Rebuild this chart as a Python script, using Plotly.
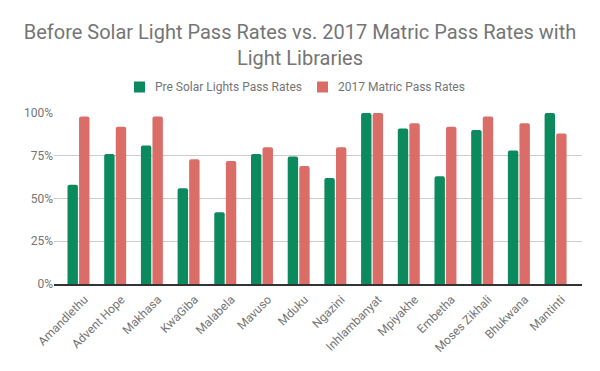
import plotly.graph_objects as go

schools = ["Amandlethu", "Advent Hope", "Makhasa", "KwaGiba", "Malabela", "Mavuso",
           "Mduku", "Ngazini", "Inhlambanyat", "Mpiyakhe", "Embetha", "Moses Zikhali",
           "Bhukwana", "Mantinti"]
pre_solar = [0.58, 0.76, 0.81, 0.56, 0.42, 0.76, 0.745, 0.62, 1.00, 0.91, 0.63, 0.90, 0.78, 1.00]
matric_2017 = [0.98, 0.92, 0.98, 0.73, 0.72, 0.80, 0.69, 0.80, 1.00, 0.94, 0.92, 0.98, 0.94, 0.88]
y_ticks = [0, 0.25, 0.5, 0.75, 1.0]
y_tick_text = ["0%", "25%", "50%", "75%", "100%"]
series_names = ["Pre Solar Lights Pass Rates", "2017 Matric Pass Rates"]

GREEN = "#0b8a5e"
RED = "#db6d68"
GREY = "#757575"

# plot area in pixels (for converting legend positions to paper coords)
L, R, T, B = 54, 582, 113, 284
def px(x):
    return (x - L) / (R - L)
def py(y):
    return (B - y) / (B - T)

fig = go.Figure()
fig.add_trace(go.Bar(x=list(range(len(schools))), y=pre_solar, name=series_names[0],
                     marker=dict(color=GREEN, line=dict(width=0))))
fig.add_trace(go.Bar(x=list(range(len(schools))), y=matric_2017, name=series_names[1],
                     marker=dict(color=RED, line=dict(width=0))))

# legend drawn manually to match spacing
shapes = []
annotations = []
for (sx, tx, col, name) in [(134, 153, GREEN, series_names[0]), (317, 336, RED, series_names[1])]:
    shapes.append(dict(type="rect", xref="paper", yref="paper",
                       x0=px(sx), x1=px(sx + 11), y0=py(92.5), y1=py(81.5),
                       fillcolor=col, line=dict(width=0), layer="above"))
    annotations.append(dict(text=name, xref="paper", yref="paper", x=px(tx), y=py(87),
                            xanchor="left", yanchor="middle", showarrow=False,
                            font=dict(size=12, color=GREY, family="Roboto")))

fig.update_layout(
    width=600, height=371,
    paper_bgcolor="white", plot_bgcolor="white",
    font=dict(family="Roboto", size=12, color=GREY),
    title=dict(text="Before Solar Light Pass Rates vs. 2017 Matric Pass Rates with<br>Light Libraries",
               x=0.5, xanchor="center", y=0.895, yanchor="top", automargin=False,
               font=dict(size=20, color=GREY, family="Roboto")),
    margin=dict(l=L, r=600 - R, t=T, b=371 - B, autoexpand=False),
    barmode="group", bargap=0.37, bargroupgap=0.1, barcornerradius=2,
    showlegend=False,
    shapes=shapes, annotations=annotations,
    xaxis=dict(tickmode="array", tickvals=list(range(len(schools))), ticktext=schools,
               tickangle=-45, range=[-0.667, 13.72], showgrid=False, zeroline=False,
               showline=True, linecolor="#333333", linewidth=1.5, ticks="",
               ticklabelshift=6, ticklabelstandoff=2,
               automargin=False, tickfont=dict(size=12, color=GREY)),
    yaxis=dict(tickmode="array", tickvals=y_ticks, ticktext=y_tick_text, range=[0, 1.0],
               showgrid=True, gridcolor="#cccccc", gridwidth=1, zeroline=False,
               showline=False, ticks="", automargin=False,
               tickfont=dict(size=12, color=GREY)),
)

fig.write_html("out.html", config={"displayModeBar": False},
               post_script="document.body.style.margin='0';document.body.style.overflow='hidden';")
